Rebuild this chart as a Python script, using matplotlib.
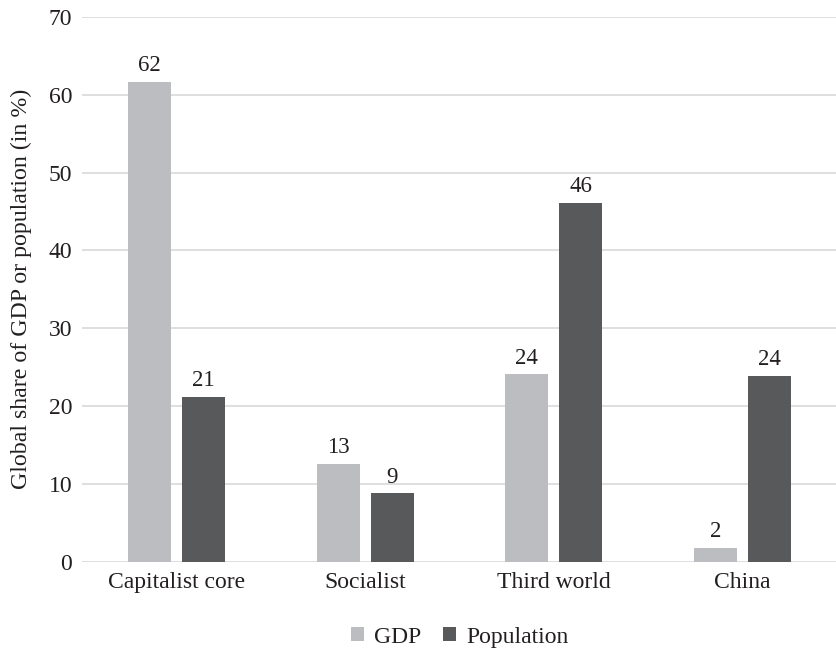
import matplotlib.pyplot as plt
import numpy as np

plt.rcParams['font.family'] = ['Liberation Serif', 'DejaVu Serif']

regions = ["Capitalist core", "Socialist", "Third world", "China"]
gdp_share = [61.7, 12.6, 24.1, 1.8]
pop_share = [21.2, 8.8, 46.1, 23.9]

gdp_color = "#bcbdc0"
pop_color = "#58595b"
text_color = "#231f20"

fig = plt.figure(figsize=(8.37, 6.51), dpi=100)
ax = fig.add_axes([0.098, 0.137, 0.902, 0.837])

x = np.arange(len(regions))
w = 0.228
off = 0.143
b1 = ax.bar(x - off, gdp_share, w, color=gdp_color, label="GDP", zorder=3)
b2 = ax.bar(x + off, pop_share, w, color=pop_color, label="Population", zorder=3)

# value labels above each bar
for bars in (b1, b2):
    ax.bar_label(bars, labels=[f"{round(v)}" for v in bars.datavalues],
                 padding=4, fontsize=16.5, color=text_color)

ax.set_xlim(-0.5, len(regions) - 0.5)
ax.set_ylim(0, 70)
ax.set_yticks(range(0, 71, 10))
ax.set_xticks(x)
ax.set_xticklabels(regions)
ax.yaxis.grid(True, color="#d9d9d9", linewidth=1.2, zorder=0)
ax.tick_params(axis="both", length=0, labelsize=17, colors=text_color)
ax.tick_params(axis="y", pad=7)
ax.tick_params(axis="x", pad=7)
for s in ax.spines.values():
    s.set_visible(False)

ax.set_ylabel("Global share of GDP or population (in %)", fontsize=17.2,
              color=text_color, labelpad=12)

ax.legend(loc="upper center", bbox_to_anchor=(0.5, -0.08), ncol=2,
          frameon=False, fontsize=17, handlelength=0.55, handleheight=0.55,
          handletextpad=0.45, columnspacing=0.9, labelcolor=text_color)

fig.savefig("out.png", dpi=100)
